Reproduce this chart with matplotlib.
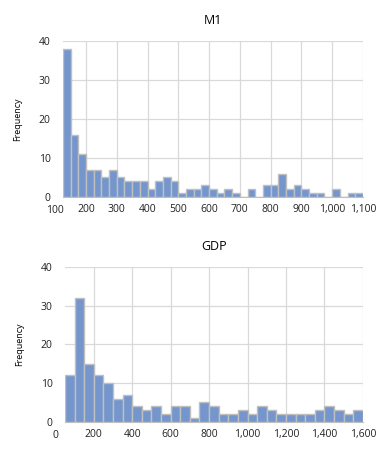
import numpy as np
import matplotlib
matplotlib.use("Agg")
from matplotlib import pyplot as plt

# M1 histogram: bins of 25 starting at 125
m1_start, m1_width = 125, 25
m1_counts = [38, 16, 11, 7, 7, 5, 7, 5, 4, 4, 4, 2, 4, 5, 4, 1, 2, 2, 3, 2,
             1, 2, 1, 0, 2, 0, 3, 3, 6, 2, 3, 2, 1, 1, 0, 2, 0, 1, 1]
m1_ticks = [100, 200, 300, 400, 500, 600, 700, 800, 900, 1000, 1100]

# GDP histogram: bins of 50 starting at 50
gdp_start, gdp_width = 50, 50
gdp_counts = [12, 32, 15, 12, 10, 6, 7, 4, 3, 4, 2, 4, 4, 1, 5, 4, 2, 2, 3, 2,
              4, 3, 2, 2, 2, 2, 3, 4, 3, 2, 3]
gdp_ticks = [0, 200, 400, 600, 800, 1000, 1200, 1400, 1600]

plt.rcParams['font.family'] = ['Open Sans', 'DejaVu Sans']

bar_col = '#7596cd'
edge_col = '#bfbfbf'
grid_col = '#d9d9d9'

fig = plt.figure(figsize=(3.84, 4.57), dpi=100)


def draw(ax, title, start, width, counts, ticks):
    edges = start + width * np.arange(len(counts) + 1)
    ax.hist(edges[:-1], bins=edges, weights=counts, color=bar_col,
            edgecolor=edge_col, linewidth=1.0, zorder=3)
    ax.set_xlim(edges[0], edges[-1])
    ax.set_ylim(0, 40)
    ax.set_yticks([0, 10, 20, 30, 40])
    # first label sits left of the plot area, like the original
    inside = [t for t in ticks if t >= edges[0]]
    ax.set_xticks(inside)
    ax.set_xticklabels([f'{t:,}' for t in inside])
    for t in ticks:
        if t < edges[0]:
            ax.text(t, -0.05, f'{t:,}', transform=ax.get_xaxis_transform(),
                    ha='center', va='top', fontsize=7.5, color='#222222',
                    clip_on=False)
    ax.grid(True, color=grid_col, linewidth=0.9, zorder=0)
    ax.set_axisbelow(True)
    for s in ['top', 'right', 'left']:
        ax.spines[s].set_visible(False)
    ax.spines['bottom'].set_color(edge_col)
    ax.tick_params(axis='x', length=0, labelsize=7.5, colors='#222222', pad=5)
    ax.tick_params(axis='y', length=0, labelsize=7.5, colors='#222222', pad=9)
    ax.set_ylabel('Frequency', fontsize=6.5, labelpad=12)
    ax.set_title(title, fontsize=9, pad=12)


ax1 = fig.add_axes([0.164, 0.569, 0.781, 0.341])
draw(ax1, 'M1', m1_start, m1_width, m1_counts, m1_ticks)

ax2 = fig.add_axes([0.169, 0.077, 0.776, 0.339])
draw(ax2, 'GDP', gdp_start, gdp_width, gdp_counts, gdp_ticks)

fig.savefig('out.png', dpi=100)
